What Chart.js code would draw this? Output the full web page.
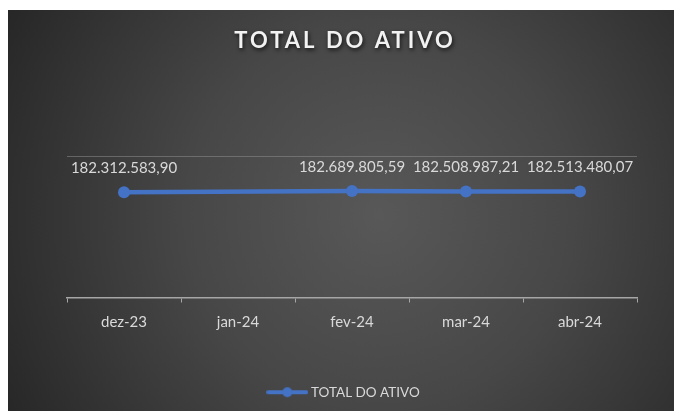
<!DOCTYPE html>
<html>
<head>
<meta charset="utf-8">
<script src="https://cdn.jsdelivr.net/npm/chart.js@4.4.1/dist/chart.umd.min.js"></script>
<style>
  html, body { margin: 0; padding: 0; background: #ffffff; }
  #wrap { width: 675px; height: 411px; position: relative; }
</style>
</head>
<body>
<div id="wrap"><canvas id="c" width="675" height="411"></canvas></div>
<script>
const categories = ['dez-23', 'jan-24', 'fev-24', 'mar-24', 'abr-24'];
const seriesName = 'TOTAL DO ATIVO';
const seriesValues = [182312583.90, null, 182689805.59, 182508987.21, 182513480.07];
const chartTitle = 'TOTAL DO ATIVO';

const LINE_COLOR = '#4472C4';
const TEXT_COLOR = '#d9d9d9';

function fmtBR(v) {
  const fixed = v.toFixed(2);
  const parts = fixed.split('.');
  const intPart = parts[0].replace(/\B(?=(\d{3})+(?!\d))/g, '.');
  return intPart + ',' + parts[1];
}

// legend sample: line with a circle marker
const legendImg = document.createElement('canvas');
legendImg.width = 42; legendImg.height = 12;
(function () {
  const g = legendImg.getContext('2d');
  g.strokeStyle = LINE_COLOR; g.lineWidth = 4; g.lineCap = 'round';
  g.beginPath(); g.moveTo(2, 6); g.lineTo(40, 6); g.stroke();
  g.fillStyle = LINE_COLOR;
  g.beginPath(); g.arc(21, 6, 5, 0, Math.PI * 2); g.fill();
})();

const bgPlugin = {
  id: 'bg',
  beforeDraw(chart) {
    const ctx = chart.ctx;
    ctx.save();
    ctx.fillStyle = '#ffffff';
    ctx.fillRect(0, 0, chart.width, chart.height);
    const grad = ctx.createRadialGradient(380, 215, 0, 380, 215, 430);
    grad.addColorStop(0, '#585858');
    grad.addColorStop(0.45, '#474747');
    grad.addColorStop(1, '#262626');
    ctx.fillStyle = grad;
    ctx.fillRect(8, 10, 666, 401);
    ctx.restore();
  }
};

const labelPlugin = {
  id: 'valueLabels',
  afterDatasetsDraw(chart) {
    const ctx = chart.ctx;
    const meta = chart.getDatasetMeta(0);
    ctx.save();
    ctx.font = '15px Lato';
    ctx.fillStyle = TEXT_COLOR;
    ctx.textAlign = 'center';
    ctx.textBaseline = 'middle';
    meta.data.forEach((pt, i) => {
      const v = chart.data.datasets[0].data[i];
      if (v === null || v === undefined) return;
      ctx.fillText(fmtBR(v), pt.x, pt.y - 24);
    });
    ctx.restore();
  }
};

const titleFxPlugin = {
  id: 'titleFx',
  afterInit(chart) {
    const tb = chart.titleBlock;
    if (!tb || tb._fxPatched) return;
    const orig = tb.draw.bind(tb);
    tb.draw = function () {
      const ctx = chart.ctx;
      ctx.save();
      ctx.shadowColor = 'rgba(0,0,0,0.75)';
      ctx.shadowBlur = 4;
      ctx.shadowOffsetX = 1;
      ctx.shadowOffsetY = 2;
      try { ctx.letterSpacing = '3px'; } catch (e) {}
      orig();
      ctx.restore();
    };
    tb._fxPatched = true;
  }
};

const Y_MIN = 153.6e6, Y_MAX = 192.1e6;

new Chart(document.getElementById('c'), {
  type: 'line',
  data: {
    labels: categories,
    datasets: [{
      label: seriesName,
      data: seriesValues,
      borderColor: LINE_COLOR,
      backgroundColor: LINE_COLOR,
      borderWidth: 4.5,
      pointRadius: 6,
      pointHoverRadius: 6,
      pointBackgroundColor: LINE_COLOR,
      pointBorderColor: LINE_COLOR,
      pointBorderWidth: 0,
      spanGaps: true,
      tension: 0,
      fill: false
    }]
  },
  options: {
    responsive: false,
    animation: false,
    events: [],
    layout: { padding: { left: 30, right: 15, top: 0, bottom: 2 } },
    plugins: {
      title: {
        display: true,
        text: chartTitle,
        color: '#f2f2f2',
        font: { family: 'Lato', size: 22, weight: 'bold' },
        padding: { top: 28, bottom: 102 }
      },
      legend: {
        display: true,
        position: 'bottom',
        labels: {
          color: TEXT_COLOR,
          font: { family: 'Lato', size: 13.5 },
          usePointStyle: true,
          pointStyleWidth: 34,
          boxHeight: 12,
          padding: 10,
          generateLabels(chart) {
            return [{
              text: seriesName,
              pointStyle: legendImg,
              fillStyle: LINE_COLOR,
              strokeStyle: LINE_COLOR,
              lineWidth: 0,
              fontColor: TEXT_COLOR,
              hidden: false,
              datasetIndex: 0
            }];
          }
        }
      },
      tooltip: { enabled: false }
    },
    scales: {
      x: {
        type: 'category',
        offset: true,
        afterFit(scale) { scale.height += 33; },
        grid: {
          offset: true,
          drawOnChartArea: false,
          drawTicks: true,
          tickLength: 5,
          color: '#a6a6a6',
          lineWidth: 1
        },
        border: { display: true, color: '#a6a6a6', width: 1.5 },
        ticks: {
          color: TEXT_COLOR,
          font: { family: 'Lato', size: 15 },
          padding: 11,
          maxRotation: 0,
          autoSkip: false
        }
      },
      y: {
        position: 'left',
        min: Y_MIN,
        max: Y_MAX,
        afterBuildTicks(scale) {
          scale.ticks = [{ value: Y_MIN }, { value: Y_MAX }];
        },
        afterFit(scale) { scale.width = 37; },
        ticks: { display: false },
        border: { display: false },
        grid: {
          drawTicks: false,
          color: (c) => (c.tick && c.tick.value === Y_MAX) ? 'rgba(140,140,140,0.55)' : 'rgba(0,0,0,0)',
          lineWidth: 1
        }
      },
      y2: {
        position: 'right',
        min: Y_MIN,
        max: Y_MAX,
        afterFit(scale) { scale.width = 23; },
        ticks: { display: false },
        border: { display: false },
        grid: { display: false, drawTicks: false }
      }
    }
  },
  plugins: [bgPlugin, titleFxPlugin, labelPlugin]
});
</script>
</body>
</html>
